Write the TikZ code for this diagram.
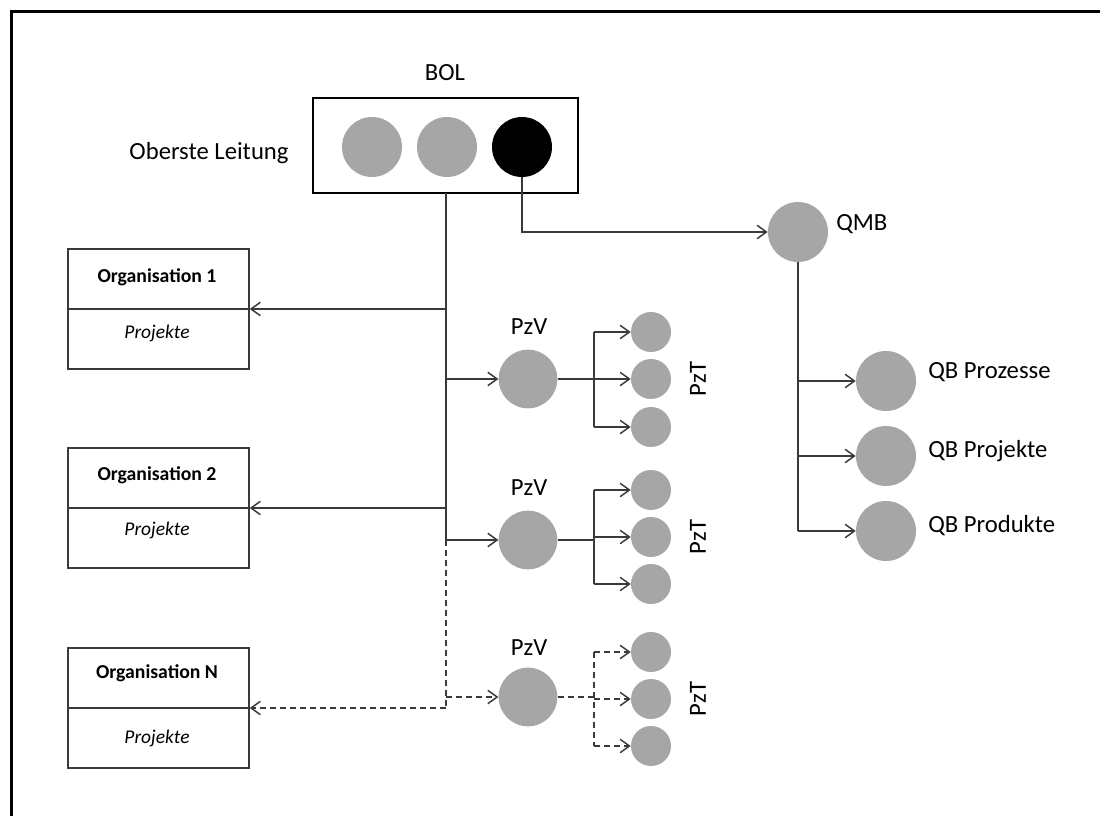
\documentclass[tikz,border=0pt]{standalone}
\usepackage{fontspec}
\setmainfont{Carlito}
\usetikzlibrary{arrows.meta}
\definecolor{dotgray}{HTML}{A6A6A6}
\definecolor{linegray}{HTML}{3A3A3A}
\begin{document}
\begin{tikzpicture}[x=0.75pt,y=-0.75pt,
  line/.style={draw=linegray, line width=1.1pt},
  arr/.style={line, -{Straight Barb[length=7pt,width=10pt]}},
  dashline/.style={dash pattern=on 4.5pt off 3pt},
  bigdot/.style={circle, fill=dotgray, minimum size=44pt, inner sep=0pt},
  topdot/.style={circle, fill=dotgray, minimum size=45pt, inner sep=0pt},
  smalldot/.style={circle, fill=dotgray, minimum size=30pt, inner sep=0pt},
  lbl/.style={font=\fontsize{18.5}{22}\selectfont, inner sep=0pt},
  orgbox/.style={draw=linegray, line width=1.1pt, minimum width=135.75pt, minimum height=90pt, inner sep=0pt},
  orgtitle/.style={font=\fontsize{14.8}{17}\selectfont\bfseries, inner sep=0pt},
  orgsub/.style={font=\fontsize{14.6}{17}\selectfont\itshape, inner sep=0pt}
]
\fill[white] (0,0) rectangle (1100,816);
\useasboundingbox (0,0) rectangle (1100,816);

% frame along top and left edges
\draw[line width=2pt, line cap=rect] (11.3,11.3) -- (11.3,816);
\draw[line width=2pt, line cap=rect] (11.3,11.3) -- (1100,11.3);

% top management
\node[draw=black, line width=1.1pt, minimum width=198.75pt, minimum height=71.25pt, inner sep=0pt] (bol) at (445.5,145.5) {};
\node[topdot] (c1) at (372,147) {};
\node[topdot] (c2) at (447,147) {};
\node[topdot, fill=black] (c3) at (522,147) {};
\node[lbl] (boltxt) at (445,73) {BOL};
\node[lbl] (ol) at (209,153) {Oberste Leitung};

% organisation boxes
\node[orgbox] (org1) at (158.5,309) {};
\node[orgbox] (org2) at (158.5,508) {};
\node[orgbox] (orgN) at (158.5,708) {};
\draw[line] (org1.west) -- (org1.east);
\draw[line] (org2.west) -- (org2.east);
\draw[line] (orgN.west) -- (orgN.east);
\node[orgtitle] (o1t) at (157,277) {Organisation 1};
\node[orgsub]   (o1s) at (157,333) {Projekte};
\node[orgtitle] (o2t) at (157,475) {Organisation 2};
\node[orgsub]   (o2s) at (157,530) {Projekte};
\node[orgtitle] (oNt) at (157,673) {Organisation N};
\node[orgsub]   (oNs) at (157,738) {Projekte};

% process managers and their team members
\node[bigdot] (pzv1) at (528,379) {};
\node[bigdot] (pzv2) at (528,540) {};
\node[bigdot] (pzv3) at (528,697) {};
\node[lbl] (pzv1t) at (529,327) {PzV};
\node[lbl] (pzv2t) at (529,488) {PzV};
\node[lbl] (pzv3t) at (529,648) {PzV};

\node[smalldot] (t11) at (651,332) {};
\node[smalldot] (t12) at (651,379) {};
\node[smalldot] (t13) at (651,427) {};
\node[smalldot] (t21) at (651,490) {};
\node[smalldot] (t22) at (651,537) {};
\node[smalldot] (t23) at (651,584) {};
\node[smalldot] (t31) at (651,652) {};
\node[smalldot] (t32) at (651,699) {};
\node[smalldot] (t33) at (651,746) {};
\node[lbl, rotate=90] (pzt1) at (698,379) {PzT};
\node[lbl, rotate=90] (pzt2) at (698,537) {PzT};
\node[lbl, rotate=90] (pzt3) at (698,699) {PzT};

% quality management
\node[topdot] (qmb) at (798,232) {};
\node[lbl, anchor=west] (qmbt) at (836,224) {QMB};
\node[topdot] (qb1) at (886,381) {};
\node[topdot] (qb2) at (886,456) {};
\node[topdot] (qb3) at (886,531) {};
\node[lbl, anchor=west] (qb1t) at (928,372) {QB Prozesse};
\node[lbl, anchor=west] (qb2t) at (928,451) {QB Projekte};
\node[lbl, anchor=west] (qb3t) at (928,526) {QB Produkte};

% trunk from the top management
\coordinate (trunk) at (446,193);
\draw[line] (trunk) -- (trunk |- pzv2);
\draw[arr] (trunk |- org1.east) -- (org1.east);
\draw[arr] (trunk |- pzv1) -- (pzv1.west);
\draw[arr] (trunk |- org2.east) -- (org2.east);
\draw[arr] (trunk |- pzv2) -- (pzv2.west);
\draw[line, dashline] (trunk |- pzv2) -- (trunk |- orgN.east);
\draw[arr, dashline] (trunk |- orgN.east) -- (orgN.east);
\draw[arr, dashline] (trunk |- pzv3) -- (pzv3.west);

% branches to the team members
\coordinate (br1) at (594,379);
\coordinate (br2) at (594,540);
\coordinate (br3) at (594,697);
\draw[line] (pzv1.east) -- (br1);
\draw[arr] (br1 |- t11) -- (t11.west);
\draw[arr] (br1 |- t12) -- (t12.west);
\draw[arr] (br1 |- t13) -- (t13.west);
\draw[line] (br1 |- t11) -- (br1 |- t13);
\draw[line] (pzv2.east) -- (br2);
\draw[arr] (br2 |- t21) -- (t21.west);
\draw[arr] (br2 |- t22) -- (t22.west);
\draw[arr] (br2 |- t23) -- (t23.west);
\draw[line] (br2 |- t21) -- (br2 |- t23);
\draw[line, dashline] (pzv3.east) -- (br3);
\draw[arr, dashline] (br3 |- t31) -- (t31.west);
\draw[arr, dashline] (br3 |- t32) -- (t32.west);
\draw[arr, dashline] (br3 |- t33) -- (t33.west);
\draw[line, dashline] (br3 |- t31) -- (br3 |- t33);

% quality management line
\draw[arr] (c3.south) |- (qmb.west);
\draw[line] (qmb.south) -- (qmb.south |- qb3);
\draw[arr] (qmb.south |- qb1) -- (qb1.west);
\draw[arr] (qmb.south |- qb2) -- (qb2.west);
\draw[arr] (qmb.south |- qb3) -- (qb3.west);
\end{tikzpicture}
\end{document}
